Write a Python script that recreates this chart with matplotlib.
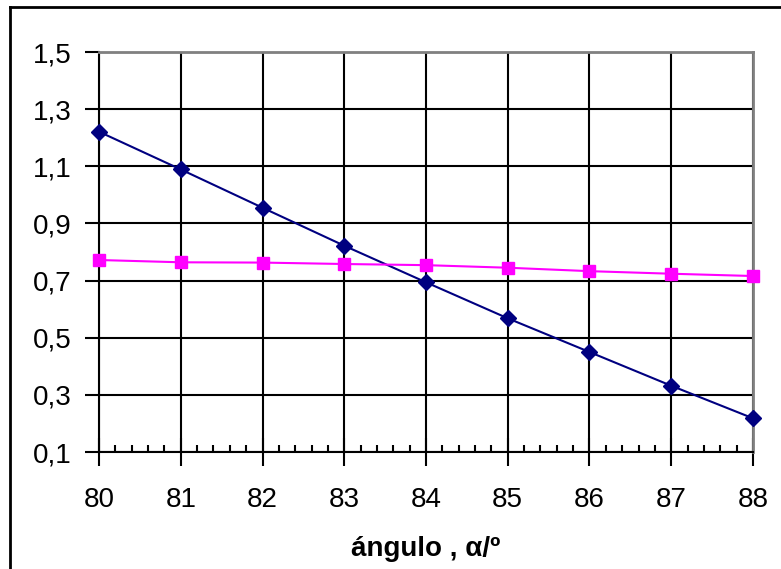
import matplotlib.pyplot as plt
from matplotlib.ticker import MultipleLocator, FixedLocator, FuncFormatter
from matplotlib.lines import Line2D

plt.rcParams['font.family'] = ['Liberation Sans', 'DejaVu Sans']

# angle in degrees
angulo = [80, 81, 82, 83, 84, 85, 86, 87, 88]
serie_azul = [1.221, 1.089, 0.955, 0.822, 0.694, 0.568, 0.450, 0.332, 0.218]
serie_rosa = [0.772, 0.764, 0.763, 0.758, 0.754, 0.745, 0.733, 0.724, 0.716]
y_ticks = [0.1, 0.3, 0.5, 0.7, 0.9, 1.1, 1.3, 1.5]

fig = plt.figure(figsize=(7.81, 5.69), dpi=100)
ax = fig.add_axes([0.1268, 0.2056, 0.9641 - 0.1268, 0.9086 - 0.2056])

# outer chart frame (top and left edges only visible)
fig.add_artist(Line2D([10 / 781, 1], [1 - 7 / 569, 1 - 7 / 569], color='black', lw=2, transform=fig.transFigure))
fig.add_artist(Line2D([10 / 781, 10 / 781], [0, 1 - 7 / 569], color='black', lw=2, transform=fig.transFigure))

ax.plot(angulo, serie_azul, color='#000080', lw=1.5, marker='D', ms=8.5, zorder=3, clip_on=False)
ax.plot(angulo, serie_rosa, color='#FF00FF', lw=1.5, marker='s', ms=8, zorder=3, clip_on=False)

ax.set_xlim(80, 88)
ax.set_ylim(0.1, 1.5)
ax.xaxis.set_major_locator(MultipleLocator(1))
ax.xaxis.set_minor_locator(MultipleLocator(0.2))
ax.yaxis.set_major_locator(FixedLocator(y_ticks))
ax.yaxis.set_major_formatter(FuncFormatter(lambda v, p: f'{v:.1f}'.replace('.', ',')))

ax.grid(which='major', color='black', lw=1.5)
ax.tick_params(axis='x', which='major', direction='inout', length=20, width=1.5, labelsize=20, pad=15)
ax.tick_params(axis='x', which='minor', direction='in', length=5, width=1.5)
ax.tick_params(axis='y', which='major', direction='out', length=10, width=1.5, labelsize=20, pad=10)

ax.spines['left'].set_linewidth(1.5)
ax.spines['bottom'].set_linewidth(1.5)
for s in ['top', 'right']:
    ax.spines[s].set_color('#808080')
    ax.spines[s].set_linewidth(2)

ax.set_xlabel('ángulo , α/º', fontsize=20, fontweight='bold', labelpad=17)

plt.savefig('out.png', dpi=100)
